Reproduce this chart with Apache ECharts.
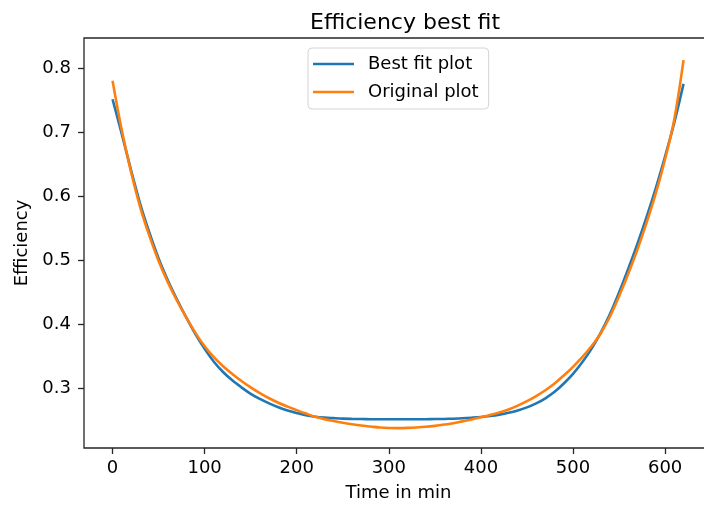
<!DOCTYPE html>
<html>
<head>
<meta charset="utf-8">
<title>Efficiency best fit</title>
<script src="https://cdn.jsdelivr.net/npm/echarts@6/dist/echarts.min.js"></script>
<style>
  html, body { margin: 0; padding: 0; background: #ffffff; }
  #chart { width: 704px; height: 508px; }
</style>
</head>
<body>
<div id="chart"></div>
<script>
// Time axis samples (minutes)
const timeMin = [
  0, 10, 20, 30, 40, 50, 60, 70, 80, 90,
  100, 110, 120, 130, 140, 150, 160, 170, 180, 190,
  200, 210, 220, 230, 240, 250, 260, 270, 280, 290,
  300, 310, 320, 330, 340, 350, 360, 370, 380, 390,
  400, 410, 420, 430, 440, 450, 460, 470, 480, 490,
  500, 510, 520, 530, 540, 550, 560, 570, 580, 590,
  600, 610, 620
];

// Fitted efficiency curve
const bestFit = [
  0.751, 0.697, 0.641, 0.588, 0.543, 0.503, 0.469, 0.439, 0.411, 0.385,
  0.362, 0.342, 0.326, 0.313, 0.302, 0.292, 0.284, 0.277, 0.271, 0.266,
  0.262, 0.2585, 0.2562, 0.2548, 0.254, 0.2533, 0.2529, 0.2526, 0.2524, 0.2523,
  0.2522, 0.2522, 0.2522, 0.2523, 0.2524, 0.2526, 0.2528, 0.2532, 0.2538, 0.2547,
  0.2558, 0.2574, 0.2595, 0.2623, 0.266, 0.2708, 0.277, 0.285, 0.295, 0.308,
  0.323, 0.341, 0.362, 0.387, 0.416, 0.450, 0.487, 0.526, 0.568, 0.613,
  0.662, 0.715, 0.775
];

// Measured efficiency curve
const original = [
  0.780, 0.703, 0.638, 0.583, 0.538, 0.499, 0.466, 0.437, 0.411, 0.387,
  0.366, 0.349, 0.335, 0.323, 0.312, 0.302, 0.293, 0.285, 0.278, 0.272,
  0.2665, 0.2612, 0.2562, 0.2525, 0.2495, 0.2468, 0.2445, 0.2425, 0.241, 0.2395,
  0.2387, 0.2385, 0.2388, 0.2395, 0.2405, 0.242, 0.244, 0.246, 0.249, 0.252,
  0.2555, 0.259, 0.2628, 0.2675, 0.2735, 0.2805, 0.2885, 0.2975, 0.308, 0.3205,
  0.334, 0.349, 0.366, 0.386, 0.412, 0.444, 0.479, 0.517, 0.559, 0.605,
  0.658, 0.720, 0.812
];

// Tick labels
const xTicks = [0, 100, 200, 300, 400, 500, 600];
const yTicks = [0.3, 0.4, 0.5, 0.6, 0.7, 0.8];

const FONT = 'DejaVu Sans';
const INK = '#000000';
const SPINE = '#262626';

const pairs = (xs, ys) => xs.map((x, i) => [x, ys[i]]);

const chart = echarts.init(document.getElementById('chart'), null, { renderer: 'canvas' });

chart.setOption({
  animation: false,
  backgroundColor: '#ffffff',
  textStyle: { fontFamily: FONT },
  title: {
    text: 'Efficiency best fit',
    left: 400,
    textAlign: 'center',
    top: 7,
    textStyle: { fontFamily: FONT, fontSize: 22, fontWeight: 'normal', color: INK }
  },
  legend: {
    orient: 'vertical',
    left: 308,
    top: 48,
    padding: [6, 10, 7, 5],
    itemGap: 8,
    itemWidth: 41,
    itemHeight: 2.5,
    icon: 'rect',
    borderColor: '#d4d4d4',
    borderWidth: 1,
    borderRadius: 4,
    backgroundColor: '#ffffff',
    textStyle: { fontFamily: FONT, fontSize: 18, lineHeight: 20, color: INK, padding: [0, 0, 0, 9] },
    data: ['Best fit plot', 'Original plot']
  },
  grid: {
    left: 84,
    top: 38,
    right: -9,
    bottom: 60,
    show: true,
    borderColor: SPINE,
    borderWidth: 1.3,
    backgroundColor: 'transparent',
    containLabel: false,
    outerBoundsMode: 'none'
  },
  xAxis: {
    type: 'value',
    min: -31,
    max: 652,
    name: 'Time in min',
    nameLocation: 'middle',
    nameGap: 36,
    nameTextStyle: { fontFamily: FONT, fontSize: 18, color: INK },
    axisLine: { show: false, onZero: false },
    axisTick: { show: true, length: 6, lineStyle: { color: SPINE, width: 1.3 }, customValues: xTicks },
    axisLabel: { fontFamily: FONT, fontSize: 18, color: INK, margin: 11, customValues: xTicks },
    splitLine: { show: false }
  },
  yAxis: {
    type: 'value',
    min: 0.2075,
    max: 0.8465,
    name: 'Efficiency',
    nameLocation: 'middle',
    nameGap: 52,
    nameTextStyle: { fontFamily: FONT, fontSize: 18, color: INK },
    axisLine: { show: false, onZero: false },
    axisTick: { show: true, length: 6, lineStyle: { color: SPINE, width: 1.3 }, customValues: yTicks },
    axisLabel: {
      fontFamily: FONT, fontSize: 18, color: INK, margin: 13,
      customValues: yTicks,
      formatter: v => v.toFixed(1)
    },
    splitLine: { show: false }
  },
  series: [
    {
      name: 'Best fit plot',
      type: 'line',
      data: pairs(timeMin, bestFit),
      showSymbol: false,
      smooth: 0.35,
      lineStyle: { color: '#1f77b4', width: 2.6 },
      itemStyle: { color: '#1f77b4' },
      z: 2
    },
    {
      name: 'Original plot',
      type: 'line',
      data: pairs(timeMin, original),
      showSymbol: false,
      smooth: 0.35,
      lineStyle: { color: '#ff7f0e', width: 2.6 },
      itemStyle: { color: '#ff7f0e' },
      z: 3
    }
  ]
});
</script>
</body>
</html>
